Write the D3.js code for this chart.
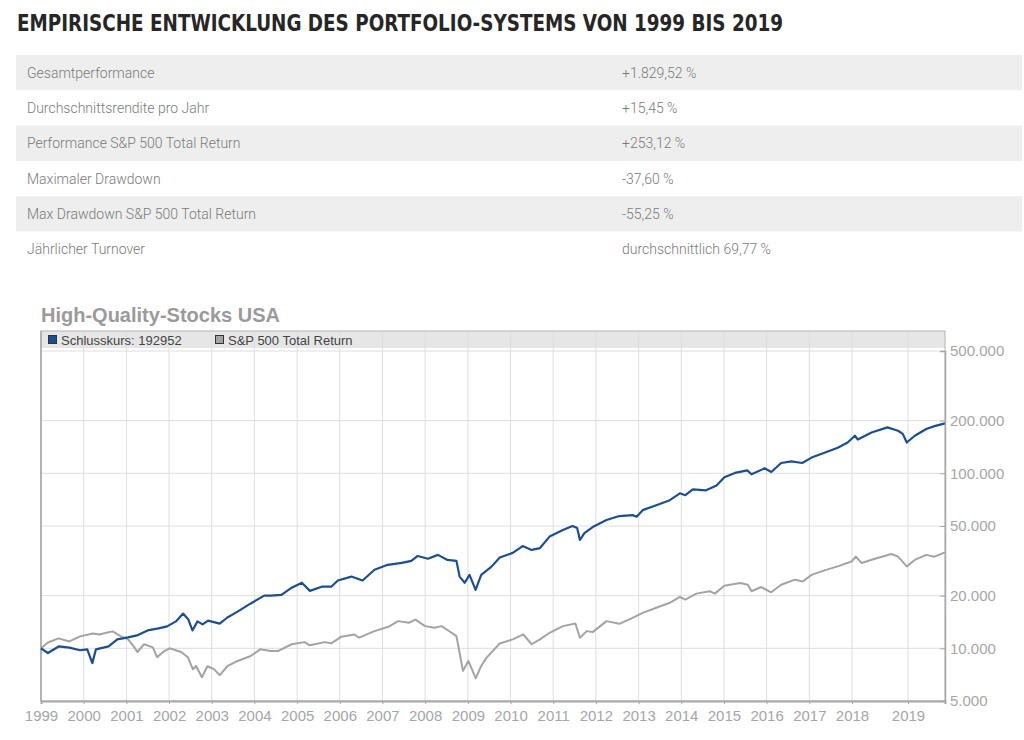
<!DOCTYPE html>
<html><head><meta charset="utf-8">
<script src="https://cdn.jsdelivr.net/npm/d3@7"></script>
<style>body{margin:0;background:#fff;} svg{display:block}</style>
</head><body><svg id="c" width="1024" height="740"></svg>
<script>
const pageTitle = "EMPIRISCHE ENTWICKLUNG DES PORTFOLIO-SYSTEMS VON 1999 BIS 2019";
const statLabels = ["Gesamtperformance","Durchschnittsrendite pro Jahr","Performance S&P 500 Total Return","Maximaler Drawdown","Max Drawdown S&P 500 Total Return","Jährlicher Turnover"];
const statValues = ["+1.829,52 %","+15,45 %","+253,12 %","-37,60 %","-55,25 %","durchschnittlich 69,77 %"];
const chartTitle = "High-Quality-Stocks USA";
const seriesNames = ["Schlusskurs: 192952","S&P 500 Total Return"];
const seriesColors = ["#1d4f90","#a3a3a3"];
const yearTicks = ["1999","2000","2001","2002","2003","2004","2005","2006","2007","2008","2009","2010","2011","2012","2013","2014","2015","2016","2017","2018","2019"];
const yTickValues = [5000,10000,20000,50000,100000,200000,500000];

const portfolioDates = ["1999-01-01","1999-03-01","1999-06-01","1999-09-01","1999-12-01","2000-02-01","2000-03-15","2000-04-15","2000-08-01","2000-10-15","2001-01-15","2001-04-01","2001-07-01","2001-10-01","2001-12-15","2002-03-01","2002-05-01","2002-06-15","2002-07-20","2002-09-01","2002-10-15","2002-12-01","2003-03-10","2003-05-15","2003-08-10","2003-12-01","2004-03-25","2004-05-20","2004-08-20","2004-11-15","2005-02-10","2005-04-20","2005-07-30","2005-10-20","2005-12-15","2006-04-10","2006-07-15","2006-10-25","2007-02-15","2007-06-15","2007-09-05","2007-10-30","2008-01-25","2008-04-20","2008-07-10","2008-09-25","2008-10-22","2008-12-05","2009-01-15","2009-03-08","2009-04-25","2009-07-20","2009-10-01","2010-01-20","2010-04-15","2010-06-30","2010-09-10","2010-12-01","2011-03-25","2011-06-15","2011-07-25","2011-08-18","2011-09-25","2011-12-05","2012-04-01","2012-07-20","2012-11-10","2012-12-15","2013-02-05","2013-06-01","2013-09-25","2013-12-20","2014-02-05","2014-04-10","2014-08-01","2014-10-30","2015-01-05","2015-04-05","2015-07-20","2015-08-25","2015-12-15","2016-02-10","2016-05-05","2016-08-01","2016-11-01","2017-01-20","2017-05-10","2017-09-01","2017-11-25","2018-01-20","2018-02-08","2018-05-08","2018-08-20","2018-10-28","2018-11-28","2018-12-24","2019-02-20","2019-05-15","2019-07-15","2019-09-30"];
const portfolioValues = [10000,9400,10250,10100,9750,9870,8230,9870,10250,11250,11550,11850,12650,13000,13350,14250,15800,14600,12650,14250,13700,14400,13850,15000,16200,18050,20000,20000,20200,22200,23700,21300,22500,22500,24400,25700,24400,28100,30000,30800,31600,33700,32500,34200,32000,31600,25700,23700,26300,21600,26300,29200,33000,35100,38400,36500,37400,43500,47400,50000,48700,41600,45500,49300,54100,57000,57700,56500,61600,65700,70200,76900,75000,81000,80000,85300,95000,100500,103900,98700,106800,101700,114500,117000,114500,123000,131000,140000,150000,164000,156000,171000,183000,175000,168000,150000,164000,179000,186000,192952];

const sp500Dates = ["1999-01-01","1999-03-01","1999-06-01","1999-09-01","1999-12-01","2000-03-20","2000-05-15","2000-08-01","2000-09-05","2000-11-15","2001-01-15","2001-03-10","2001-04-05","2001-06-01","2001-08-15","2001-09-21","2001-11-10","2002-01-05","2002-04-15","2002-06-10","2002-07-23","2002-08-20","2002-10-09","2002-11-25","2003-01-20","2003-03-11","2003-05-15","2003-08-10","2003-12-01","2004-02-20","2004-05-20","2004-07-20","2004-11-15","2005-03-05","2005-04-20","2005-08-25","2005-10-20","2006-01-15","2006-05-05","2006-06-15","2006-10-25","2007-02-20","2007-05-15","2007-08-15","2007-10-10","2008-01-01","2008-03-20","2008-05-20","2008-08-15","2008-09-25","2008-10-22","2008-11-20","2009-01-05","2009-03-09","2009-04-25","2009-06-10","2009-10-01","2010-01-20","2010-04-20","2010-06-30","2010-09-10","2010-12-01","2011-03-25","2011-07-10","2011-08-18","2011-10-15","2011-12-05","2012-04-01","2012-07-20","2012-11-10","2013-02-05","2013-06-01","2013-09-25","2013-12-20","2014-02-05","2014-05-10","2014-09-01","2014-10-15","2015-01-05","2015-05-20","2015-07-25","2015-08-25","2015-11-15","2016-02-10","2016-05-05","2016-08-30","2016-11-05","2017-01-20","2017-05-10","2017-09-01","2017-12-28","2018-01-26","2018-03-05","2018-05-25","2018-09-15","2018-10-28","2018-12-24","2019-02-20","2019-05-15","2019-07-15","2019-09-30"];
const sp500Values = [10000,10800,11400,10950,11700,12150,12000,12350,12500,11700,11250,10130,9530,10550,10130,8900,9530,10000,9530,8900,7600,7930,6840,7900,7600,7020,7900,8470,9040,9870,9650,9650,10550,10850,10400,10850,10680,11650,12000,11500,12540,13280,14300,14000,14600,13390,13100,13390,12270,11750,9450,7430,8470,6730,7930,8850,10650,11250,12000,10550,11250,12270,13390,13870,11500,12540,12380,14300,13800,14940,15950,17050,18200,19650,18980,20540,21200,20540,22800,23600,23100,21200,22400,20900,23100,24700,24100,26300,27900,29400,31350,33400,30700,32400,34600,33400,29400,32000,34200,33400,35312];

(function(){
const svg = d3.select("#c");
const parse = d3.timeParse("%Y-%m-%d");
const de = d3.formatLocale({decimal:",", thousands:".", grouping:[3], currency:["","€"]});
const fmt = de.format(",");

svg.append("text").attr("x",17).attr("y",31)
  .attr("textLength",766).attr("lengthAdjust","spacingAndGlyphs")
  .style("font-family","'DejaVu Sans Condensed','DejaVu Sans',sans-serif")
  .style("font-weight","bold").style("font-size","23px").style("fill","#262626")
  .text(pageTitle);

const rowY = d3.scaleBand().domain(d3.range(statLabels.length)).range([55,267]).padding(0);
const rows = svg.append("g").selectAll("g").data(statLabels).join("g")
  .attr("transform",(d,i)=>`translate(0,${rowY(i)})`);
rows.append("rect").attr("x",16).attr("width",1006).attr("height",rowY.bandwidth())
  .attr("fill",(d,i)=> i%2===0 ? "#eeeeee" : "#ffffff");
rows.append("text").attr("x",27).attr("y",rowY.bandwidth()/2+5)
  .style("font-family","Roboto,sans-serif").style("font-size","14px").style("font-weight","300").style("fill","#7a7a7a")
  .text(d=>d);
rows.append("text").attr("x",622).attr("y",rowY.bandwidth()/2+5)
  .style("font-family","Roboto,sans-serif").style("font-size","14px").style("font-weight","300").style("fill","#7a7a7a")
  .text((d,i)=>statValues[i]);

const pL=41, pR=945, pT=331, pB=701;
const x = d3.scaleTime()
  .domain([parse("1999-01-01"),parse("2018-01-01"),parse("2019-01-01"),parse("2019-09-30")])
  .range([pL,852,908,pR]);
const y = d3.scaleLog().domain([5000,500000]).range([pB,351]);

svg.append("text").attr("x",41).attr("y",322)
  .style("font-family","'Liberation Sans',Arial,sans-serif").style("font-weight","bold")
  .style("font-size","20px").style("fill","#9a9a9a").text(chartTitle);

svg.append("rect").attr("x",pL).attr("y",pT).attr("width",pR-pL).attr("height",17)
  .attr("fill","#e6e6e6");

const yearDates = yearTicks.map(t=>parse(t+"-01-01"));
svg.append("g").selectAll("line").data(yearDates).join("line")
  .attr("x1",d=>x(d)).attr("x2",d=>x(d)).attr("y1",pT).attr("y2",pB)
  .attr("stroke","#dedede").attr("stroke-width",1);
svg.append("g").selectAll("line").data(yTickValues.slice(1)).join("line")
  .attr("x1",pL).attr("x2",pR).attr("y1",d=>y(d)).attr("y2",d=>y(d))
  .attr("stroke","#dedede").attr("stroke-width",1);

svg.append("rect").attr("x",pL).attr("y",pT).attr("width",pR-pL).attr("height",pB-pT)
  .attr("fill","none").attr("stroke","#b4b4b4").attr("stroke-width",1);
svg.append("line").attr("x1",pL).attr("x2",pL).attr("y1",pT).attr("y2",pB)
  .attr("stroke","#a8a8a8").attr("stroke-width",1.5);

const legendX = [48,215];
seriesNames.forEach((n,i)=>{
  svg.append("rect").attr("x",legendX[i]+0.5).attr("y",335.5).attr("width",8).attr("height",8)
    .attr("fill",seriesColors[i]).attr("stroke","#333").attr("stroke-width",1);
  svg.append("text").attr("x",legendX[i]+13).attr("y",344.5)
    .style("font-family","'Liberation Sans',Arial,sans-serif").style("font-size","13px")
    .style("fill","#444").text(n);
});

const line = d3.line().x(d=>x(d[0])).y(d=>y(d[1]));
const sp = sp500Dates.map((d,i)=>[parse(d),sp500Values[i]]);
const pf = portfolioDates.map((d,i)=>[parse(d),portfolioValues[i]]);
svg.append("path").datum(sp).attr("d",line).attr("fill","none")
  .attr("stroke",seriesColors[1]).attr("stroke-width",2).attr("stroke-linejoin","round");
svg.append("path").datum(pf).attr("d",line).attr("fill","none")
  .attr("stroke",seriesColors[0]).attr("stroke-width",2.2).attr("stroke-linejoin","round");

const xAxis = svg.append("g").attr("transform",`translate(0,${pB})`)
  .call(d3.axisBottom(x).tickValues(yearDates).tickFormat(d3.timeFormat("%Y")).tickSize(3).tickPadding(6));
xAxis.select(".domain").attr("stroke","#a8a8a8").attr("stroke-width",2);
xAxis.selectAll(".tick line").attr("stroke","#a8a8a8");
xAxis.selectAll("text").style("font-family","'Liberation Sans',Arial,sans-serif")
  .style("font-size","15px").attr("fill","#a6a6a6");

const yAxis = svg.append("g").attr("transform",`translate(${pR},0)`)
  .call(d3.axisRight(y).tickValues(yTickValues).tickFormat(fmt).tickSize(-5).tickPadding(5));
yAxis.select(".domain").attr("stroke","#a8a8a8").attr("stroke-width",1.5);
yAxis.selectAll(".tick line").attr("stroke","#a8a8a8");
yAxis.selectAll("text").style("font-family","'Liberation Sans',Arial,sans-serif")
  .style("font-size","15px").attr("fill","#a6a6a6");
})();
</script></body></html>
